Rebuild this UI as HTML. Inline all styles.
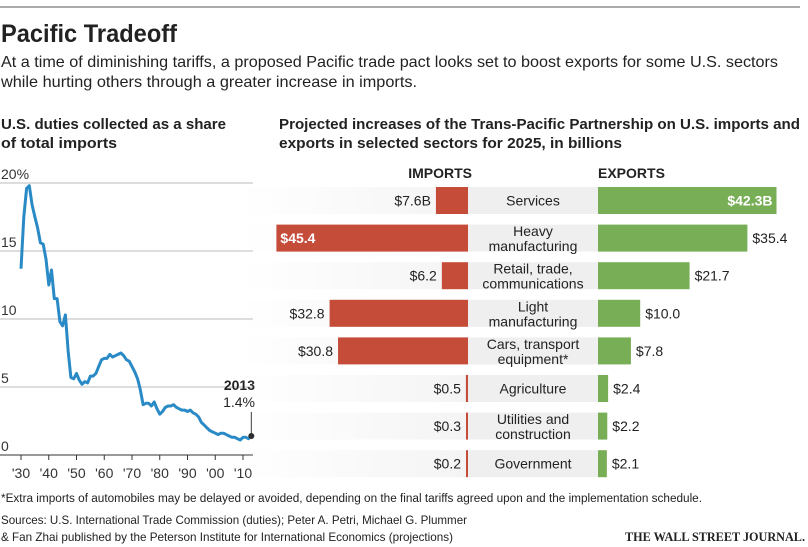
<!DOCTYPE html>
<html><head><meta charset="utf-8"><style>
body{margin:0;background:#fff;}
svg{display:block;font-family:"Liberation Sans",sans-serif;}
</style></head><body>
<svg id="chart" width="808" height="547" viewBox="0 0 808 547">
<line x1="0" y1="7" x2="800" y2="7" stroke="#555" stroke-width="1"/>
<text x="1" y="42" font-size="25" font-weight="bold" fill="#222" textLength="176" lengthAdjust="spacingAndGlyphs">Pacific Tradeoff</text>
<text x="1" y="67" font-size="16" fill="#222" textLength="777" lengthAdjust="spacingAndGlyphs">At a time of diminishing tariffs, a proposed Pacific trade pact looks set to boost exports for some U.S. sectors</text>
<text x="1" y="87" font-size="16" fill="#222" textLength="416" lengthAdjust="spacingAndGlyphs">while hurting others through a greater increase in imports.</text>
<text x="1" y="129" font-size="15" font-weight="bold" fill="#222" textLength="225" lengthAdjust="spacingAndGlyphs">U.S. duties collected as a share</text>
<text x="1" y="148" font-size="15" font-weight="bold" fill="#222" textLength="116" lengthAdjust="spacingAndGlyphs">of total imports</text>
<text x="279" y="129" font-size="15" font-weight="bold" fill="#222" textLength="521" lengthAdjust="spacingAndGlyphs">Projected increases of the Trans-Pacific Partnership on U.S. imports and</text>
<text x="279" y="148" font-size="15" font-weight="bold" fill="#222" textLength="343" lengthAdjust="spacingAndGlyphs">exports in selected sectors for 2025, in billions</text>
<g id="line-chart"></g>
<g id="bar-chart"></g>
<text x="1" y="502" font-size="11.5" fill="#222" textLength="701" lengthAdjust="spacingAndGlyphs">*Extra imports of automobiles may be delayed or avoided, depending on the final tariffs agreed upon and the implementation schedule.</text>
<text x="1" y="524" font-size="12" fill="#222" textLength="466" lengthAdjust="spacingAndGlyphs">Sources: U.S. International Trade Commission (duties); Peter A. Petri, Michael G. Plummer</text>
<text x="1" y="541" font-size="12" fill="#222" textLength="452" lengthAdjust="spacingAndGlyphs">&amp; Fan Zhai published by the Peterson Institute for International Economics (projections)</text>
<text x="805" y="541" font-size="13" font-family="Liberation Serif,serif" font-weight="bold" fill="#222" text-anchor="end" textLength="180" lengthAdjust="spacingAndGlyphs">THE WALL STREET JOURNAL.</text>
</svg>
<script>
const NS="http://www.w3.org/2000/svg";
function mk(parent,tag,attrs,txt){const e=document.createElementNS(NS,tag);for(const k in attrs)e.setAttribute(k,attrs[k]);if(txt!==undefined)e.textContent=txt;parent.appendChild(e);return e;}

// ---- line chart data ----
const startYear=1930;
const dutyValues=[13.7,17.5,19.6,19.8,18.4,17.5,16.7,15.6,15.5,14.4,12.5,13.6,11.5,11.5,9.8,9.5,10.3,7.6,5.7,5.6,6.0,5.5,5.2,5.4,5.3,5.8,5.8,6.0,6.5,7.0,7.1,7.1,7.4,7.2,7.3,7.4,7.5,7.3,7.0,6.9,6.5,6.1,5.6,4.8,3.7,3.8,3.8,3.6,3.9,3.4,3.0,3.2,3.5,3.6,3.6,3.7,3.5,3.4,3.3,3.3,3.2,3.3,3.1,3.0,2.8,2.4,2.2,2.0,1.8,1.7,1.6,1.5,1.6,1.6,1.5,1.4,1.3,1.3,1.2,1.1,1.3,1.3,1.2,1.4];
const yTicks=[0,5,10,15,20];
const yTickLabels=["0","5","10","15","20%"];
const xTicks=[1930,1940,1950,1960,1970,1980,1990,2000,2010];
const xTickLabels=["'30","'40","'50","'60","'70","'80","'90","'00","'10"];

const lx=y=>21+(y-1930)*2.775;
const ly=v=>455-v*13.6;
const L=document.getElementById('line-chart');
yTicks.forEach((t,i)=>{
  if(t>0){const g=mk(L,'line',{x1:0,x2:253,y1:ly(t),y2:ly(t),stroke:'#bbb','stroke-width':1});
  
  }
  const tx=mk(L,'text',{x:1,y:ly(t)-4,'font-size':14,fill:'#333'},yTickLabels[i]);
  
  
});
const ax=mk(L,'line',{x1:0,x2:253,y1:455,y2:455,stroke:'#333','stroke-width':1});


xTicks.forEach((t,i)=>{
  const tk=mk(L,'line',{x1:lx(t),x2:lx(t),y1:455,y2:460,stroke:'#333'});
  
  
  const tx=mk(L,'text',{x:lx(t),y:478,'font-size':14,fill:'#333','text-anchor':'middle'},xTickLabels[i]);
  
  
});
const pts=dutyValues.map((v,i)=>lx(startYear+i).toFixed(1)+','+ly(v).toFixed(1)).join(' ');
const pl=mk(L,'polyline',{points:pts,fill:'none',stroke:'#2a8ac6','stroke-width':3,'stroke-linejoin':'round'});


const lastYear=startYear+dutyValues.length-1, lastV=dutyValues[dutyValues.length-1];
const ll=mk(L,'line',{x1:lx(lastYear),x2:lx(lastYear),y1:ly(lastV),y2:ly(lastV)-24,stroke:'#333'});


const dot=mk(L,'circle',{cx:lx(lastYear),cy:ly(lastV),r:3,fill:'#222'});


const a1=mk(L,'text',{x:255,y:ly(lastV)-46,'font-size':14,'font-weight':'bold',fill:'#222','text-anchor':'end'},String(lastYear));


const a2=mk(L,'text',{x:255,y:ly(lastV)-29,'font-size':14,fill:'#222','text-anchor':'end'},lastV.toFixed(1)+'%');



// ---- bar chart data ----
const sectors=[["Services"],["Heavy","manufacturing"],["Retail, trade,","communications"],["Light","manufacturing"],["Cars, transport","equipment*"],["Agriculture"],["Utilities and","construction"],["Government"]];
const imports=[7.6,45.4,6.2,32.8,30.8,0.5,0.3,0.2];
const exports=[42.3,35.4,21.7,10.0,7.8,2.4,2.2,2.1];
const importLabels=["$7.6B","$45.4","$6.2","$32.8","$30.8","$0.5","$0.3","$0.2"];
const exportLabels=["$42.3B","$35.4","$21.7","$10.0","$7.8","$2.4","$2.2","$2.1"];

const B=document.getElementById('bar-chart');
const k=4.22, impR=468, expL=598, rowTop=i=>187+i*37.6, bh=27;
const defs=mk(B,'defs',{});
const gr=mk(defs,'linearGradient',{id:'fade',x1:0,x2:1,y1:0,y2:0});
mk(gr,'stop',{offset:0,'stop-color':'#f4f4f4','stop-opacity':0});
mk(gr,'stop',{offset:1,'stop-color':'#f4f4f4','stop-opacity':1});
const h1=mk(B,'text',{x:472,y:178,'font-size':14,'font-weight':'bold',fill:'#222','text-anchor':'end'},'IMPORTS');


const h2=mk(B,'text',{x:598,y:178,'font-size':14,'font-weight':'bold',fill:'#222'},'EXPORTS');


sectors.forEach((s,i)=>{
  const y=rowTop(i), cy=y+bh/2;
  const bg=mk(B,'rect',{x:240,y:y,width:228,height:bh,fill:'url(#fade)'});
  
  
  const cb=mk(B,'rect',{x:impR,y:y,width:expL-impR,height:bh,fill:'#efefef'});
  
  
  const iw=Math.max(2,imports[i]*k);
  const ib=mk(B,'rect',{x:impR-iw,y:y,width:iw,height:bh,fill:'#c64c3a'});
  
  
  const ew=Math.max(2,exports[i]*k);
  const eb=mk(B,'rect',{x:expL,y:y,width:ew,height:bh,fill:'#78ae56'});
  
  
  const inside=iw>165;
  const il=mk(B,'text',{x:inside?impR-iw+4:impR-iw-5,y:cy+5,'font-size':14,fill:inside?'#fff':'#222','font-weight':inside?'bold':'normal','text-anchor':inside?'start':'end'},importLabels[i]);
  
  
  const einside=ew>165;
  const el=mk(B,'text',{x:einside?expL+ew-4:expL+ew+5,y:cy+5,'font-size':14,fill:einside?'#fff':'#222','font-weight':einside?'bold':'normal','text-anchor':einside?'end':'start'},exportLabels[i]);
  
  
  s.forEach((line,j)=>{
    const yy=s.length===1?cy+5:cy-2+j*15;
    const t=mk(B,'text',{x:(impR+expL)/2,y:yy,'font-size':14,fill:'#222','text-anchor':'middle'},line);
    
    
  });
});
</script>
</body></html>
